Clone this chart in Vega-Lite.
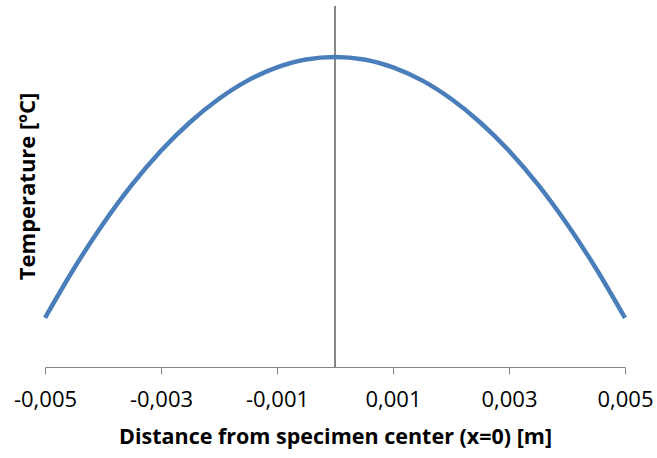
{
  "$schema": "https://vega.github.io/schema/vega-lite/v6.json",
  "width": 580,
  "height": 361,
  "autosize": {"type": "none"},
  "padding": {"left": 45, "top": 6, "right": 32, "bottom": 91},
  "background": "white",
  "config": {"view": {"stroke": null}, "font": "Open Sans"},
  "data": {"values": [
    {"x": -0.005, "t": 13.6},
    {"x": -0.0045, "t": 27.3},
    {"x": -0.004, "t": 39.6},
    {"x": -0.0035, "t": 50.5},
    {"x": -0.003, "t": 59.9},
    {"x": -0.0025, "t": 67.8},
    {"x": -0.002, "t": 74.3},
    {"x": -0.0015, "t": 79.4},
    {"x": -0.001, "t": 83.0},
    {"x": -0.0005, "t": 85.2},
    {"x": 0, "t": 85.9},
    {"x": 0.0005, "t": 85.2},
    {"x": 0.001, "t": 83.0},
    {"x": 0.0015, "t": 79.4},
    {"x": 0.002, "t": 74.3},
    {"x": 0.0025, "t": 67.8},
    {"x": 0.003, "t": 59.9},
    {"x": 0.0035, "t": 50.5},
    {"x": 0.004, "t": 39.6},
    {"x": 0.0045, "t": 27.3},
    {"x": 0.005, "t": 13.6}
  ]},
  "layer": [
    {
      "mark": {"type": "rule", "color": "#868686", "strokeWidth": 1},
      "encoding": {"x": {"datum": 0, "type": "quantitative"}}
    },
    {
      "mark": {"type": "line", "color": "#4a7ebb", "strokeWidth": 4.5, "interpolate": "monotone"},
      "encoding": {
        "x": {
          "field": "x", "type": "quantitative",
          "scale": {"domain": [-0.005, 0.005], "nice": false, "zero": false},
          "axis": {
            "title": "Distance from specimen center (x=0) [m]",
            "values": [-0.005, -0.003, -0.001, 0.001, 0.003, 0.005],
            "labelExpr": "replace(toString(datum.value), '.', ',')",
            "labelFlush": false,
            "labelOverlap": false,
            "grid": false,
            "domainColor": "#868686",
            "tickColor": "#868686",
            "tickSize": 7,
            "labelFontSize": 22,
            "labelColor": "black",
            "labelPadding": 15,
            "titleFontSize": 21.5,
            "titleFontWeight": "bold",
            "titleColor": "black",
            "titlePadding": 16
          }
        },
        "y": {
          "field": "t", "type": "quantitative",
          "scale": {"domain": [0, 100], "nice": false},
          "axis": {
            "title": "Temperature [ºC]",
            "labels": false,
            "ticks": false,
            "domain": false,
            "grid": false,
            "titleFontSize": 22,
            "titleFontWeight": "bold",
            "titleColor": "black",
            "titlePadding": 6,
            "titleY": 180
          }
        }
      }
    }
  ]
}
